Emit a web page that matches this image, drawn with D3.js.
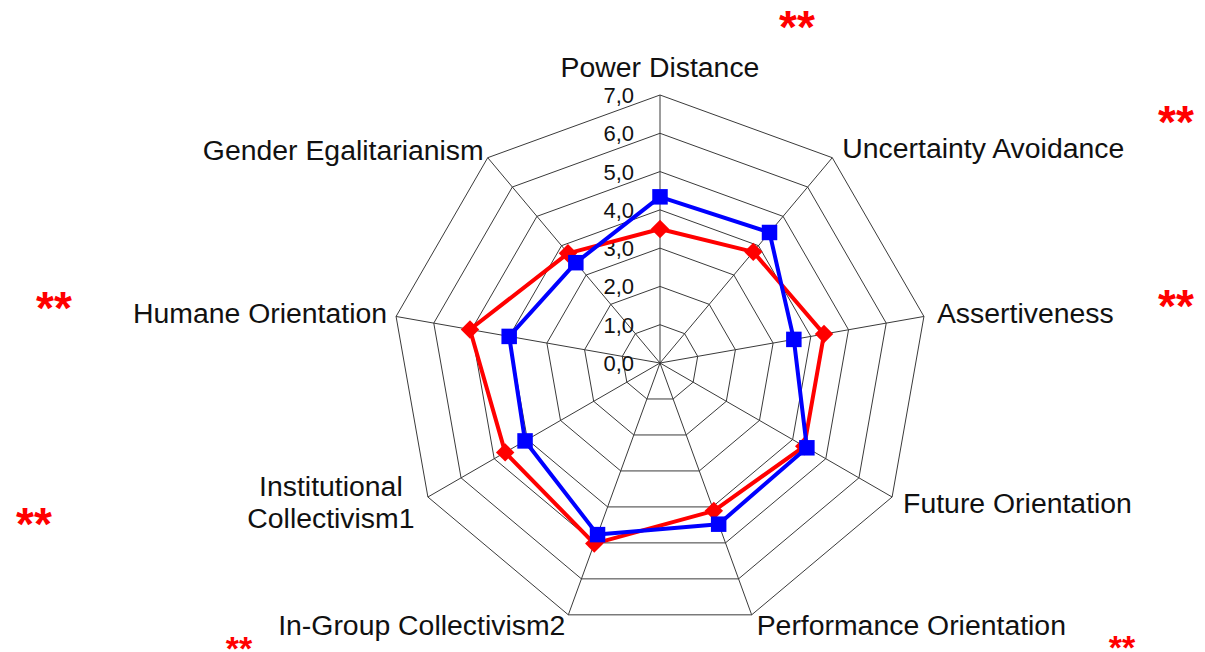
<!DOCTYPE html>
<html lang='en'>
<head>
  <meta charset='utf-8'/>
  <title>GLOBE dimensions radar</title>
  <script src='https://d3js.org/d3.v7.min.js'></script>
  <style>
    body{margin:0;background:#ffffff;font-family:'Liberation Sans',Arial,sans-serif;}
    svg{display:block;}
  </style>
</head>
<body>
<svg id='chart'></svg>
<script>
// Data
const dimensions = ['Power Distance', 'Uncertainty Avoidance', 'Assertiveness', 'Future Orientation',
  'Performance Orientation', 'In-Group Collectivism2', 'Institutional Collectivism1',
  'Humane Orientation', 'Gender Egalitarianism'];
const blueValues = [4.34, 4.45, 3.55, 4.43, 4.48, 4.77, 4.07, 4.00, 3.42];
const redValues  = [3.50, 3.79, 4.35, 4.35, 4.11, 5.02, 4.67, 5.04, 3.74];
const tickValues = [0, 1, 2, 3, 4, 5, 6, 7];
const tickLabels = ['0,0', '1,0', '2,0', '3,0', '4,0', '5,0', '6,0', '7,0'];
// significance markers: [x, glyph top, size]
const stars = [
  [797, 10, 46], [1176, 105, 46], [1176, 289, 46], [54, 291, 46],
  [34, 507, 46], [239, 636, 34], [1122, 635, 34]
];

// Settings
const W = 1205, H = 652;
const cx = 660, cy = 363, R = 268;

const svg = d3.select('#chart').attr('width', W).attr('height', H);

const r = d3.scaleLinear().domain([0, 7]).range([0, R]);
const angle = d3.scaleLinear().domain([0, dimensions.length]).range([0, 2 * Math.PI]);
const pt = (i, v) => [cx + r(v) * Math.sin(angle(i)), cy - r(v) * Math.cos(angle(i))];

// Grid rings
const g = svg.append('g');
tickValues.filter(t => t > 0).forEach(t => {
  g.append('polygon')
    .attr('points', dimensions.map((d, i) => pt(i, t).join(',')).join(' '))
    .attr('fill', 'none').attr('stroke', '#3a3a3a').attr('stroke-width', 1);
});
// Spokes
dimensions.forEach((d, i) => {
  const [x, y] = pt(i, 7);
  g.append('line').attr('x1', cx).attr('y1', cy).attr('x2', x).attr('y2', y)
    .attr('stroke', '#3a3a3a').attr('stroke-width', 1);
});

// Tick labels
svg.selectAll('.tick-label').data(tickValues).join('text')
  .attr('class', 'tick-label')
  .attr('x', cx - 26)
  .attr('y', d => cy - r(d) + 8)
  .attr('text-anchor', 'end')
  .attr('font-size', 22)
  .attr('fill', '#111')
  .text((d, i) => tickLabels[i]);

// Axis labels
const labelG = svg.append('g').attr('font-size', 28.4).attr('fill', '#111');
dimensions.forEach((d, i) => {
  const [vx, vy] = pt(i, 7);
  const a = angle(i) * 180 / Math.PI;
  const t = labelG.append('text');
  if (i === 0) {
    t.attr('x', vx).attr('y', vy - 18).attr('text-anchor', 'middle').text(d);
  } else if (d.startsWith('Institutional')) {
    const parts = ['Institutional', 'Collectivism1'];
    t.attr('x', vx - 97).attr('y', vy - 1).attr('text-anchor', 'middle');
    parts.forEach((p, k) => t.append('tspan').attr('x', vx - 97).attr('dy', k ? 32 : 0).text(p));
  } else if (a < 180) {
    const dy = a < 60 ? 0 : a < 100 ? 7 : 16;
    const dx = a < 60 ? 10 : a < 100 ? 13 : a < 140 ? 11 : 5;
    t.attr('x', vx + dx).attr('y', vy + dy + (a > 140 ? 4 : 0)).attr('text-anchor', 'start').text(d);
  } else {
    const dy = a > 300 ? 2 : a > 260 ? 7 : 20;
    const dx = a > 300 ? 4 : a > 260 ? 9 : 3;
    t.attr('x', vx - dx).attr('y', vy + dy).attr('text-anchor', 'end').text(d);
  }
});

// Series
const line = d3.lineRadial().angle((d, i) => angle(i)).radius(d => r(d)).curve(d3.curveLinearClosed);
const series = [
  {name: 'red', values: redValues, color: '#ff0000', shape: d3.symbolSquare, size: 170, rot: 45},
  {name: 'blue', values: blueValues, color: '#0000ff', shape: d3.symbolSquare, size: 240, rot: 0}
];
series.forEach(s => {
  const sg = svg.append('g');
  sg.append('path')
    .attr('transform', `translate(${cx},${cy})`)
    .attr('d', line(s.values))
    .attr('fill', 'none').attr('stroke', s.color).attr('stroke-width', 4)
    .attr('stroke-linejoin', 'round');
  sg.selectAll('path.marker').data(s.values).join('path')
    .attr('class', 'marker')
    .attr('transform', (d, i) => `translate(${pt(i, d).join(',')}) rotate(${s.rot})`)
    .attr('d', d3.symbol().type(s.shape).size(s.size))
    .attr('fill', s.color);
});

// Significance stars
svg.selectAll('.star').data(stars).join('text')
  .attr('class', 'star')
  .attr('x', d => d[0])
  .attr('y', d => d[1] + d[2] * 0.72)
  .attr('text-anchor', 'middle')
  .attr('font-size', d => d[2])
  .attr('font-weight', 'bold')
  .attr('fill', '#ff0000')
  .text('**');
</script>
</body>
</html>
